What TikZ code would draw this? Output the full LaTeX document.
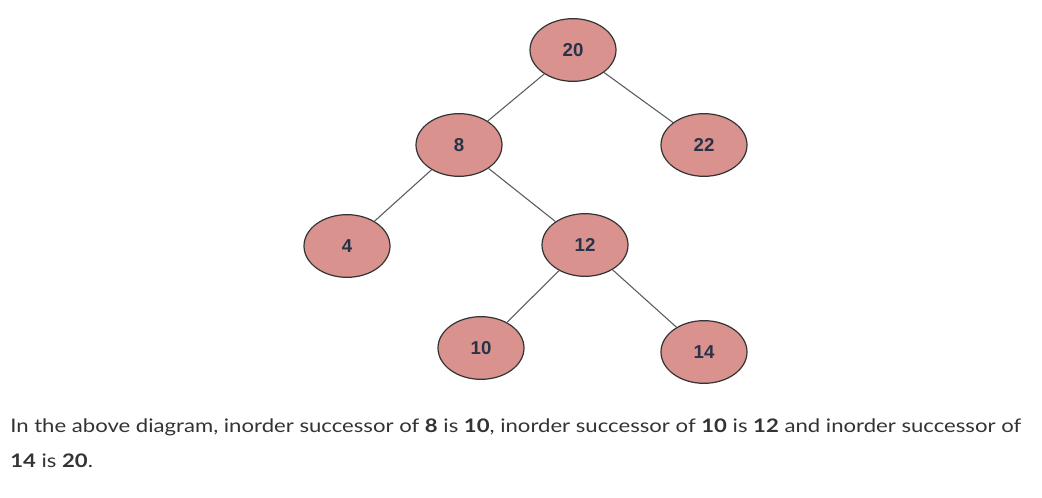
\documentclass[tikz,border=0pt]{standalone}
\usepackage{fontspec}
\setmainfont{Lato}[FakeStretch=1.185]
\newfontfamily\nodefont{Liberation Sans}
\usetikzlibrary{shapes.geometric}
\definecolor{nodefill}{HTML}{D9928D}
\definecolor{nodetext}{HTML}{283349}
\definecolor{edgegray}{HTML}{5A5A5A}
\definecolor{captext}{HTML}{333333}
\tikzset{
  treenode/.style={ellipse,draw=black!80,line width=0.9pt,fill=nodefill,
    minimum width=64.5pt,minimum height=47pt,inner sep=0pt,
    font=\nodefont\bfseries\fontsize{14}{16}\selectfont,text=nodetext},
  treeedge/.style={draw=edgegray,line width=0.8pt}
}
\begin{document}
\begin{tikzpicture}[x=0.75pt,y=-0.75pt]
      \useasboundingbox (0,0) rectangle (1042,498);
      \node[treenode] (n20) at (573,50) {20};
      \node[treenode] (n8) at (459,145) {8};
      \node[treenode] (n22) at (704,145) {22};
      \node[treenode] (n4) at (347,246) {4};
      \node[treenode] (n12) at (585,245) {12};
      \node[treenode] (n10) at (481,348) {10};
      \node[treenode] (n14) at (704,352) {14};
      \draw[treeedge] (n20) -- (n8);
      \draw[treeedge] (n20) -- (n22);
      \draw[treeedge] (n8) -- (n4);
      \draw[treeedge] (n8) -- (n12);
      \draw[treeedge] (n12) -- (n10);
      \draw[treeedge] (n12) -- (n14);
      \node[anchor=base west,inner sep=0pt,text=captext,font=\fontsize{14}{18}\selectfont] (line1) at (10,433)
        {In the above diagram, inorder successor of \textbf{8} is \textbf{10}, inorder successor of \textbf{10} is \textbf{12} and inorder successor of};
      \node[anchor=base west,inner sep=0pt,text=captext,font=\fontsize{14}{18}\selectfont] (line2) at (10,468)
        {\textbf{14} is \textbf{20}.};
   \end{tikzpicture}
\end{document}
